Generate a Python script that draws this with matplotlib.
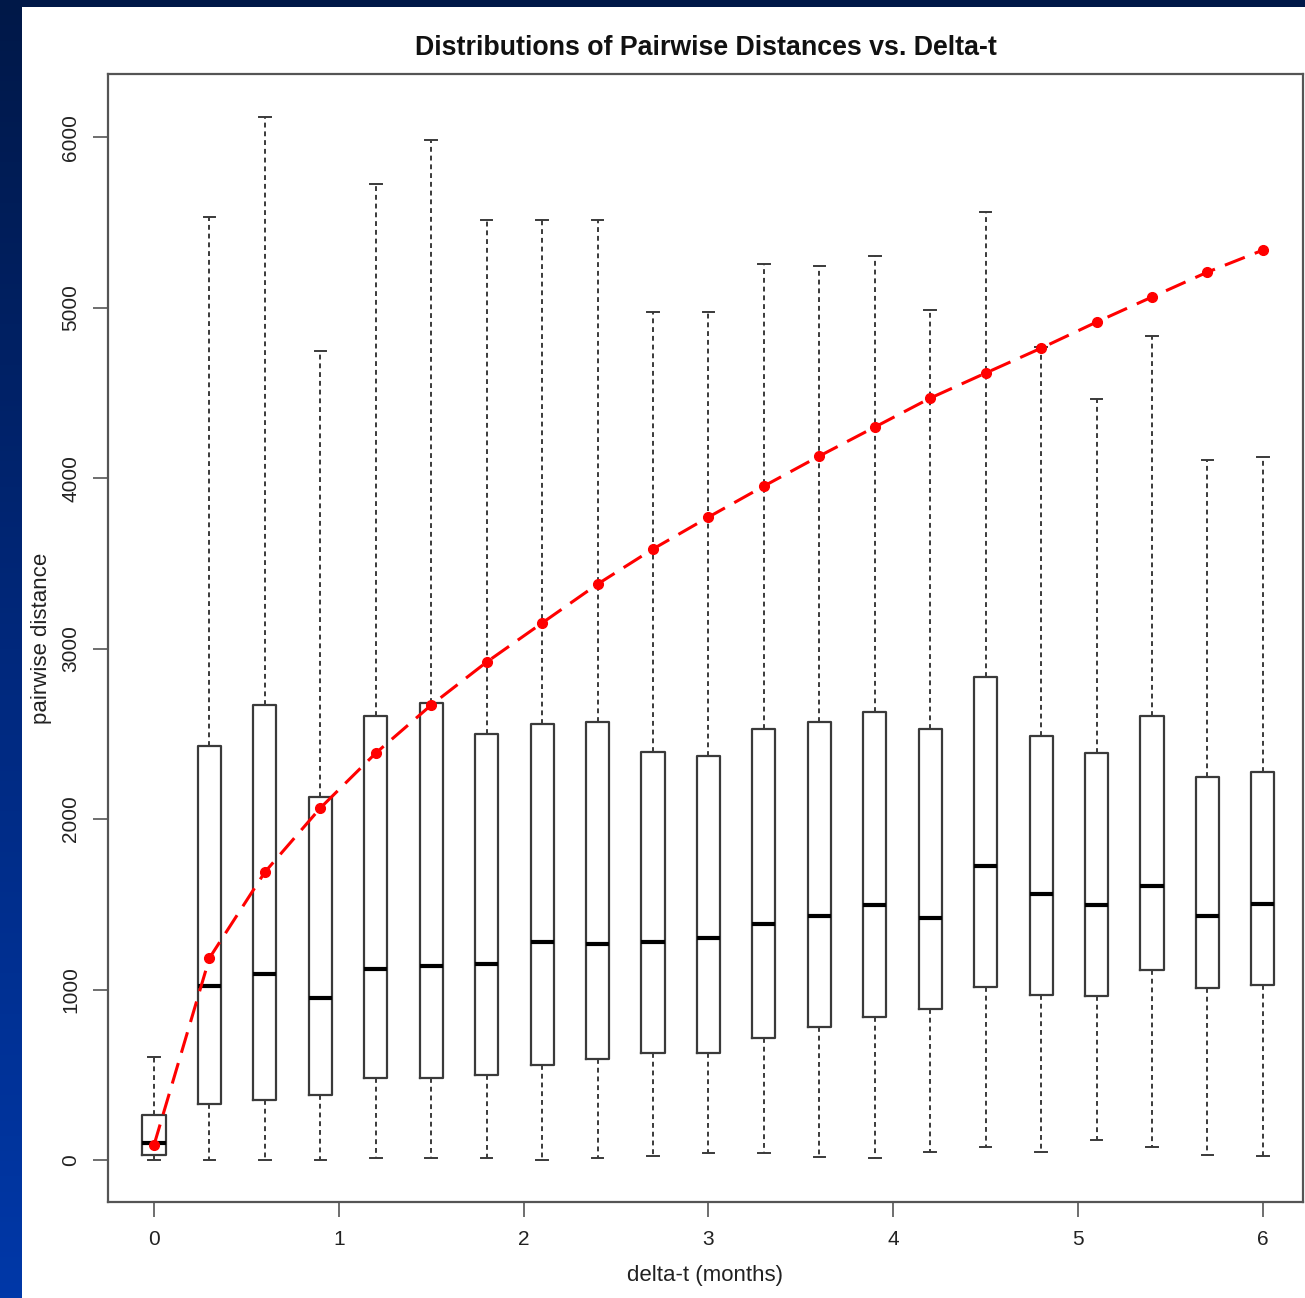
import numpy as np
import matplotlib
matplotlib.use("Agg")
import matplotlib.pyplot as plt
from matplotlib.colors import LinearSegmentedColormap
from matplotlib.patches import Rectangle

# ---- data ----
delta_t = [0.0, 0.3, 0.6, 0.9, 1.2, 1.5, 1.8, 2.1, 2.4, 2.7, 3.0,
           3.3, 3.6, 3.9, 4.2, 4.5, 4.8, 5.1, 5.4, 5.7, 6.0]
whisk_lo = [0, 0, 0, 0, 12, 12, 12, 0, 12, 23, 41,
            41, 18, 12, 47, 76, 47, 117, 76, 29, 23]
q1 = [30, 328, 352, 381, 481, 481, 499, 557, 592, 628, 628,
      716, 780, 839, 886, 1015, 968, 962, 1114, 1009, 1026]
medians = [100, 1020, 1091, 950, 1120, 1138, 1150, 1279, 1267, 1279, 1302,
           1384, 1431, 1496, 1419, 1724, 1560, 1496, 1607, 1431, 1501]
q3 = [264, 2428, 2669, 2129, 2604, 2680, 2498, 2557, 2569, 2393, 2370,
      2528, 2569, 2628, 2528, 2833, 2487, 2387, 2604, 2246, 2276]
whisk_hi = [604, 5531, 6117, 4745, 5724, 5982, 5513, 5513, 5513, 4974, 4974,
            5255, 5243, 5302, 4985, 5560, 4768, 4463, 4833, 4106, 4123]
mean_dist = [88, 1185, 1689, 2065, 2387, 2669, 2921, 3150, 3378, 3584, 3771,
             3953, 4129, 4299, 4469, 4616, 4762, 4915, 5062, 5208, 5337]

x_ticks = [0, 1, 2, 3, 4, 5, 6]
y_ticks = [0, 1000, 2000, 3000, 4000, 5000, 6000]

W, H = 1305, 1298
fig = plt.figure(figsize=(W / 100, H / 100), dpi=100)

# background gradient (dark navy to blue)
bg = fig.add_axes([0, 0, 1, 1])
cmap = LinearSegmentedColormap.from_list("bg", ["#001848", "#00287c", "#0038a8"])
grad = np.linspace(0, 1, 256).reshape(-1, 1)
bg.imshow(grad, aspect="auto", cmap=cmap, extent=[0, 1, 0, 1], origin="upper")
bg.add_patch(Rectangle((22 / W, 0), 1 - 22 / W, 1 - 7 / H,
                       facecolor="white", edgecolor="none", transform=bg.transAxes))
bg.set_axis_off()

plt.rcParams["font.family"] = ["Liberation Sans", "DejaVu Sans"]

left, right, top, bottom = 108, 1303, 74, 1202
ax = fig.add_axes([left / W, 1 - bottom / H, (right - left) / W, (bottom - top) / H])
ax.set_facecolor("white")

stats = []
for i in range(len(delta_t)):
    stats.append(dict(whislo=whisk_lo[i], q1=q1[i], med=medians[i],
                      q3=q3[i], whishi=whisk_hi[i], fliers=[]))

ax.bxp(stats, positions=delta_t, widths=0.125, showfliers=False,
       boxprops=dict(color="#3a3a3a", linewidth=1.6),
       whiskerprops=dict(color="#3a3a3a", linewidth=1.4, linestyle=(0, (2.5, 2))),
       capprops=dict(color="#3a3a3a", linewidth=1.4),
       medianprops=dict(color="black", linewidth=3.0),
       manage_ticks=False)

ax.plot(delta_t, mean_dist, color="red", linestyle=(0, (7, 3.5)), linewidth=2.2,
        marker="o", markersize=7, markeredgecolor="red", markerfacecolor="red", zorder=5)

ax.set_xlim(-0.249, 6.217)
ax.set_ylim(-246, 6370)
ax.set_xticks(x_ticks)
ax.set_xticklabels([str(t) for t in x_ticks])
ax.set_yticks(y_ticks)
ax.set_yticklabels([str(t) for t in y_ticks], rotation=90, va="center")

for s in ax.spines.values():
    s.set_color("#555555")
    s.set_linewidth(1.6)
ax.tick_params(axis="both", direction="out", length=11, width=1.2, color="#555555",
               labelsize=15, labelcolor="#222222", pad=9)

ax.set_xlabel("delta-t (months)", fontsize=16, color="#222222", labelpad=12)
ax.set_ylabel("pairwise distance", fontsize=16, color="#222222", labelpad=7)
ax.set_title("Distributions of Pairwise Distances vs. Delta-t", fontsize=19.3,
             fontweight="bold", color="#111111", pad=14)

fig.savefig("out.png", dpi=100)
